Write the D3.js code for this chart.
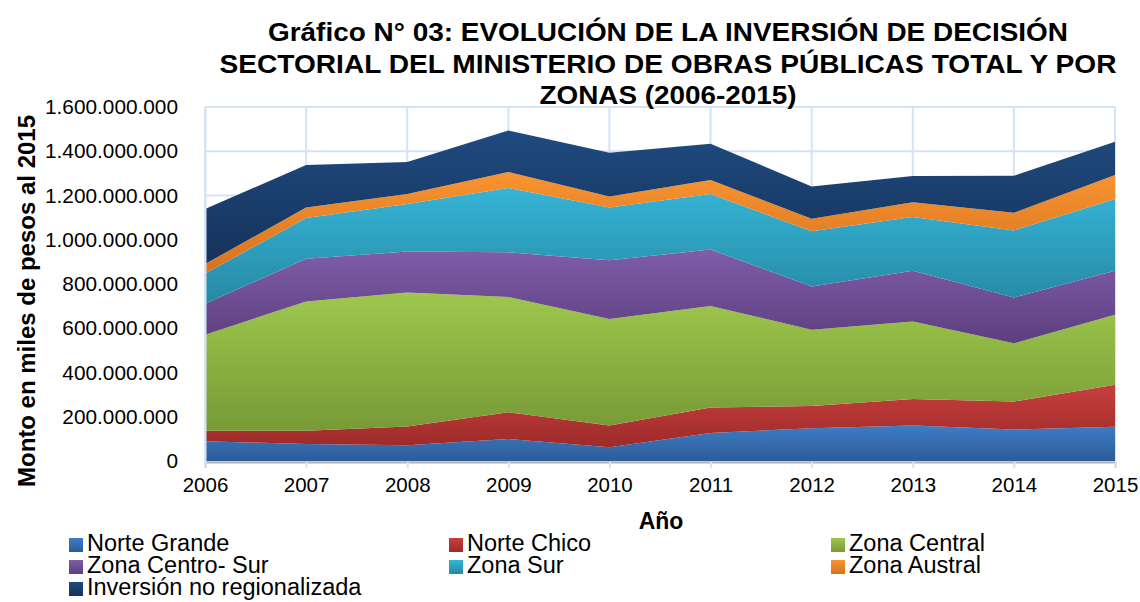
<!DOCTYPE html>
<html>
<head>
<meta charset="utf-8">
<script src="https://cdn.jsdelivr.net/npm/d3@7/dist/d3.min.js"></script>
<style>
  body { margin: 0; background: #fff; }
  svg { font-family: "Liberation Sans", Arial, sans-serif; }
  .grid line { stroke: #d6e3f3; stroke-width: 2; }
  .tick text { fill: #000; }
</style>
</head>
<body>
<svg width="1140" height="602"></svg>
<script>
// years on the x axis
var years = [2006, 2007, 2008, 2009, 2010, 2011, 2012, 2013, 2014, 2015];

// series names (stack order bottom -> top)
var seriesNames = ["Norte Grande", "Norte Chico", "Zona Central", "Zona Centro- Sur",
                   "Zona Sur", "Zona Austral", "Inversión no regionalizada"];

// values in miles de pesos
var norteGrande   = [89e6, 77e6, 71e6, 99e6, 62e6, 127e6, 148e6, 160e6, 142e6, 155e6];
var norteChico    = [48e6, 60e6, 85e6, 121e6, 98e6, 115e6, 101e6, 120e6, 127e6, 190e6];
var zonaCentral   = [434e6, 584e6, 606e6, 521e6, 482e6, 459e6, 344e6, 351e6, 263e6, 316e6];
var zonaCentroSur = [140e6, 193e6, 185e6, 202e6, 265e6, 255e6, 196e6, 229e6, 207e6, 199e6];
var zonaSur       = [136e6, 184e6, 215e6, 291e6, 239e6, 251e6, 249e6, 243e6, 303e6, 324e6];
var zonaAustral   = [43e6, 48e6, 45e6, 72e6, 49e6, 63e6, 57e6, 66e6, 80e6, 109e6];
var noRegional    = [249e6, 192e6, 144e6, 188e6, 198e6, 164e6, 146e6, 119e6, 167e6, 150e6];

var yTicks = [0, 2e8, 4e8, 6e8, 8e8, 10e8, 12e8, 14e8, 16e8];

(function (d3) {
  'use strict';

  // gradient colours (top, bottom) per series
  var colors = [
    ["#3e7cc6", "#2c5c98"],
    ["#c73f3c", "#9c2b2a"],
    ["#9fc74c", "#779a37"],
    ["#7f5da9", "#5c3f7e"],
    ["#36b4d6", "#2689a4"],
    ["#f99430", "#d5721f"],
    ["#1f4b80", "#15325a"]
  ];

  var allSeries = [norteGrande, norteChico, zonaCentral, zonaCentroSur, zonaSur, zonaAustral, noRegional];

  var table = years.map(function(yr, i) {
    var row = {year: yr};
    seriesNames.forEach(function(n, k) { row[n] = allSeries[k][i]; });
    return row;
  });

  var svg = d3.select("svg");
  var plotLeft = 205, plotRight = 1115, plotTop = 107, plotBottom = 461;

  var x = d3.scaleLinear().domain([2006, 2015]).range([plotLeft, plotRight]);
  var y = d3.scaleLinear().domain([0, 1.6e9]).range([plotBottom, plotTop]);

  var locale = d3.formatLocale({decimal: ",", thousands: ".", grouping: [3], currency: ["$", ""]});
  var fmt = locale.format(",");

  // gradients
  var defs = svg.append("defs");
  colors.forEach(function(c, i) {
    var g = defs.append("linearGradient")
      .attr("id", "grad" + i)
      .attr("x1", 0).attr("y1", 0).attr("x2", 0).attr("y2", 1);
    g.append("stop").attr("offset", "0%").attr("stop-color", c[0]);
    g.append("stop").attr("offset", "100%").attr("stop-color", c[1]);
  });

  // grid
  var grid = svg.append("g").attr("class", "grid");
  grid.selectAll(".h").data(yTicks).enter().append("line").attr("class", "h")
    .attr("x1", plotLeft).attr("x2", plotRight)
    .attr("y1", function(d) { return y(d); }).attr("y2", function(d) { return y(d); });
  grid.selectAll(".v").data(years).enter().append("line").attr("class", "v")
    .attr("y1", plotTop).attr("y2", plotBottom)
    .attr("x1", function(d) { return x(d); }).attr("x2", function(d) { return x(d); });

  // stacked areas
  var layers = d3.stack().keys(seriesNames)(table);

  var area = d3.area()
    .x(function(d) { return x(d.data.year); })
    .y0(function(d) { return y(d[0]); })
    .y1(function(d) { return y(d[1]); });

  svg.append("g").selectAll("path")
    .data(layers)
    .enter().append("path")
    .attr("d", area)
    .attr("fill", function(d, i) { return "url(#grad" + i + ")"; });

  // x axis
  var xAxis = svg.append("g")
    .attr("transform", "translate(0," + (plotBottom + 1) + ")")
    .call(d3.axisBottom(x).tickValues(years).tickFormat(d3.format("d")).tickSize(6).tickPadding(9));
  xAxis.select(".domain").attr("stroke", "#b3b3b3").attr("stroke-width", 2);
  xAxis.selectAll(".tick line").attr("stroke", "#d6e3f3").attr("stroke-width", 2);
  xAxis.selectAll(".tick text").style("font-size", "20.5px");

  // y axis
  var yAxis = svg.append("g")
    .attr("transform", "translate(" + plotLeft + ",0)")
    .call(d3.axisLeft(y).tickValues(yTicks).tickFormat(fmt).tickSize(0).tickPadding(27));
  yAxis.select(".domain").attr("stroke", "#d6e3f3").attr("stroke-width", 2);
  yAxis.selectAll(".tick text").style("font-size", "20.8px");

  // title
  var titleLines = [
    {t: "Gráfico N° 03: EVOLUCIÓN DE LA INVERSIÓN DE DECISIÓN", y: 41, w: 800},
    {t: "SECTORIAL DEL MINISTERIO DE OBRAS PÚBLICAS TOTAL Y POR", y: 73, w: 897},
    {t: "ZONAS (2006-2015)", y: 104, w: 257}
  ];
  svg.append("g").selectAll("text").data(titleLines).enter().append("text")
    .attr("x", 668).attr("y", function(d) { return d.y; })
    .attr("text-anchor", "middle")
    .attr("textLength", function(d) { return d.w; })
    .attr("lengthAdjust", "spacingAndGlyphs")
    .style("font-size", "26px").style("font-weight", "bold")
    .text(function(d) { return d.t; });

  // axis titles
  svg.append("text")
    .attr("x", 661).attr("y", 529)
    .attr("text-anchor", "middle")
    .style("font-size", "23px").style("font-weight", "bold")
    .text("Año");

  svg.append("text")
    .attr("transform", "translate(35,301) rotate(-90)")
    .attr("text-anchor", "middle")
    .attr("textLength", 372).attr("lengthAdjust", "spacingAndGlyphs")
    .style("font-size", "23px").style("font-weight", "bold")
    .text("Monto en miles de pesos al 2015");

  // legend
  var legendPos = [
    {x: 69, y: 551}, {x: 449, y: 551}, {x: 831, y: 551},
    {x: 69, y: 573}, {x: 449, y: 573}, {x: 831, y: 573},
    {x: 69, y: 595}
  ];
  var leg = svg.append("g").selectAll("g").data(seriesNames).enter().append("g")
    .attr("transform", function(d, i) { return "translate(" + legendPos[i].x + "," + legendPos[i].y + ")"; });
  leg.append("rect")
    .attr("x", 0).attr("y", -13).attr("width", 14).attr("height", 14)
    .attr("fill", function(d, i) { return "url(#grad" + i + ")"; });
  leg.append("text")
    .attr("x", 18).attr("y", 0)
    .style("font-size", "23.5px")
    .text(function(d) { return d; });
})(window.d3);
</script>
</body>
</html>
